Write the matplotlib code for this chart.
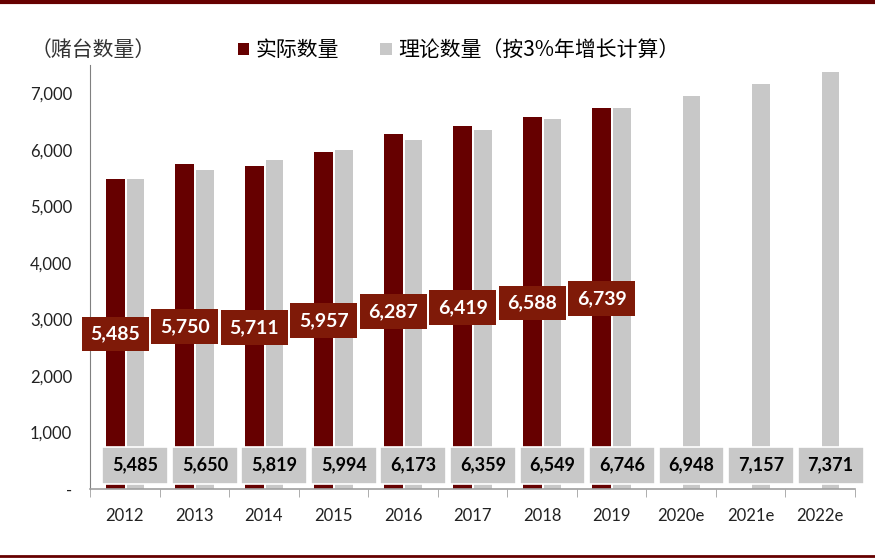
import numpy as np
import matplotlib
matplotlib.use('Agg')
import matplotlib.pyplot as plt
from matplotlib.patches import Rectangle
from matplotlib.lines import Line2D
from matplotlib.ticker import FuncFormatter

plt.rcParams['font.family'] = ['Lato', 'Noto Sans CJK SC', 'DejaVu Sans']

years = ['2012', '2013', '2014', '2015', '2016', '2017', '2018', '2019', '2020e', '2021e', '2022e']
actual = [5485, 5750, 5711, 5957, 6287, 6419, 6588, 6739]
theory = [5485, 5650, 5819, 5994, 6173, 6359, 6549, 6746, 6948, 7157, 7371]

DARK = '#660000'
DARK_BOX = '#7F1A08'
GRAY = '#C8C8C8'

fig = plt.figure(figsize=(8.75, 5.58), dpi=100)
ax = fig.add_axes([0.103, 0.1237, 0.874, 0.7598])

x = np.arange(len(years))
xa = x[:len(actual)]
ax.bar(xa - 0.14, actual, width=0.27, color=DARK, zorder=2)
ax.bar(x + 0.15, theory, width=0.25, color=GRAY, zorder=2)

# labels of actual values: centred in the bar height
for xi, v in zip(xa, actual):
    ax.text(xi - 0.14, v / 2, f'{v:,}', ha='center', va='center', color='white',
            fontsize=14, fontweight='bold', zorder=4,
            bbox=dict(boxstyle='square,pad=0.45', fc=DARK_BOX, ec='none'))

# labels of theoretical values: near the base
for xi, v in zip(x, theory):
    ax.text(xi + 0.15, 420, f'{v:,}', ha='center', va='center', color='black',
            fontsize=13, fontweight='bold', zorder=4,
            bbox=dict(boxstyle='square,pad=0.55', fc=GRAY, ec='white', lw=1.2))

ax.set_xlim(-0.5, len(years) - 0.5)
ax.set_ylim(0, 7500)
ax.set_yticks(range(0, 7001, 1000))
ax.yaxis.set_major_formatter(FuncFormatter(lambda v, p: '-' if v == 0 else f'{int(v):,}'))
ax.set_xticks(x)
ax.set_xticklabels(years)
ax.set_xticks(np.arange(-0.5, len(years)), minor=True)
ax.tick_params(axis='x', which='major', length=0, pad=14, labelsize=12, colors='#222222')
ax.tick_params(axis='x', which='minor', length=6, color='#A0A0A0', direction='out')
ax.tick_params(axis='y', length=0, pad=13, labelsize=12, colors='#222222')

for s in ['top', 'right']:
    ax.spines[s].set_visible(False)
ax.spines['left'].set_color('#808080')
ax.spines['bottom'].set_color('#A0A0A0')
ax.spines['left'].set_linewidth(0.8)
ax.spines['bottom'].set_linewidth(1.2)

fig.text(0.035, 0.91, '（赌台数量）', fontsize=15, color='#333333', va='center',
         family=['Noto Sans CJK SC', 'DejaVu Sans'])

handles = [Rectangle((0, 0), 1, 1, fc=DARK), Rectangle((0, 0), 1, 1, fc=GRAY)]
fig.legend(handles, ['实际数量', '理论数量（按3%年增长计算）'], loc='center left',
           bbox_to_anchor=(0.25, 0.91), ncol=2, frameon=False, handlelength=0.55,
           handleheight=0.55, handletextpad=0.3, columnspacing=2.0,
           prop={'family': ['Noto Sans CJK SC', 'DejaVu Sans'], 'size': 15})

fig.add_artist(Line2D([0, 1], [0.997, 0.997], color=DARK, lw=3, transform=fig.transFigure))
fig.add_artist(Line2D([0, 1], [0.003, 0.003], color=DARK, lw=2, transform=fig.transFigure))

fig.savefig('out.png', dpi=100, facecolor='white')
